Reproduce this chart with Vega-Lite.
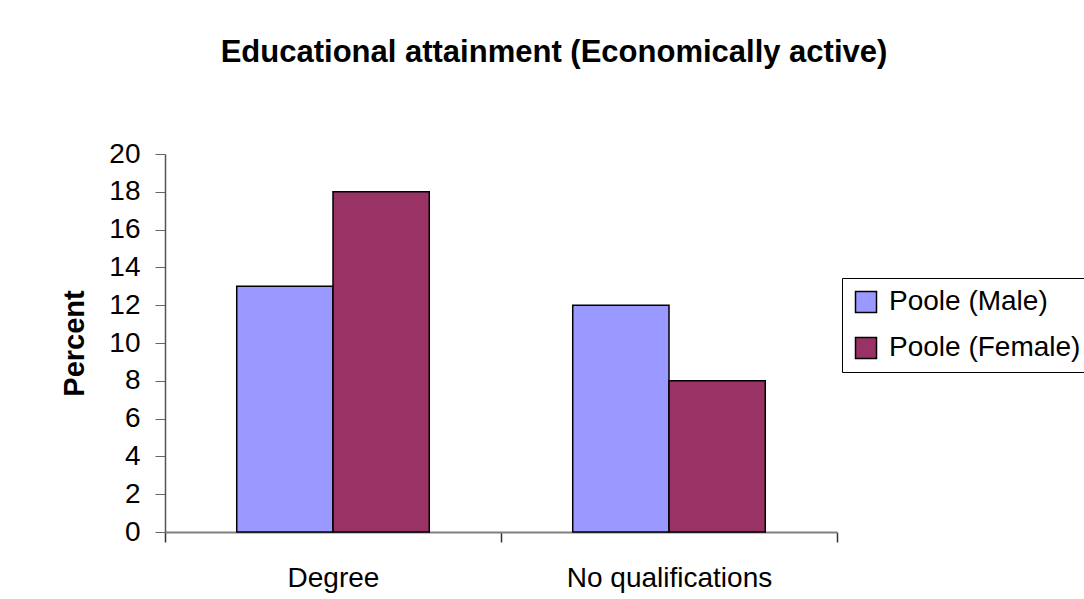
{
  "$schema": "https://vega.github.io/schema/vega-lite/v6.json",
  "width": 672,
  "height": 378,
  "autosize": {"type": "none"},
  "padding": {"left": 165, "top": 154, "right": 247, "bottom": 67},
  "background": "white",
  "title": {
    "text": "Educational attainment (Economically active)",
    "font": "Liberation Sans",
    "fontSize": 31,
    "fontWeight": "bold",
    "color": "black",
    "anchor": "middle",
    "frame": "group",
    "baseline": "alphabetic",
    "offset": 47,
    "dx": 53
  },
  "data": {
    "values": [
      {"category": "Degree", "series": "Poole (Male)", "value": 13},
      {"category": "Degree", "series": "Poole (Female)", "value": 18},
      {"category": "No qualifications", "series": "Poole (Male)", "value": 12},
      {"category": "No qualifications", "series": "Poole (Female)", "value": 8}
    ]
  },
  "mark": {"type": "bar", "stroke": "black", "strokeWidth": 1.5, "opacity": 1},
  "encoding": {
    "x": {
      "field": "category",
      "type": "nominal",
      "sort": ["Degree", "No qualifications"],
      "scale": {"paddingInner": 0, "paddingOuter": 0},
      "axis": {
        "title": null,
        "labelAngle": 0,
        "labelFont": "Liberation Sans",
        "labelFontSize": 28,
        "labelColor": "black",
        "labelPadding": 22,
        "labelLimit": 400,
        "tickBand": "extent",
        "tickSize": 10,
        "tickColor": "#333333",
        "tickWidth": 1.5,
        "domainColor": "#808080",
        "domainWidth": 2
      }
    },
    "xOffset": {
      "field": "series",
      "type": "nominal",
      "sort": ["Poole (Male)", "Poole (Female)"],
      "scale": {"paddingInner": 0, "paddingOuter": 0.745}
    },
    "y": {
      "field": "value",
      "type": "quantitative",
      "scale": {"domain": [0, 20], "nice": false},
      "axis": {
        "title": "Percent",
        "titleFont": "Liberation Sans",
        "titleFontSize": 29,
        "titleFontWeight": "bold",
        "titleColor": "black",
        "titleAngle": -90,
        "titleAlign": "center",
        "titleBaseline": "middle",
        "titleX": -91,
        "titleY": 189,
        "values": [0, 2, 4, 6, 8, 10, 12, 14, 16, 18, 20],
        "grid": false,
        "labelFont": "Liberation Sans",
        "labelFontSize": 28,
        "labelColor": "black",
        "labelPadding": 15,
        "tickSize": 10,
        "tickColor": "#666666",
        "domainColor": "#555555",
        "domainWidth": 1.5
      }
    },
    "color": {
      "field": "series",
      "type": "nominal",
      "sort": ["Poole (Male)", "Poole (Female)"],
      "scale": {"domain": ["Poole (Male)", "Poole (Female)"], "range": ["#9999FF", "#993366"]},
      "legend": {
        "title": null,
        "orient": "none",
        "legendX": 677,
        "legendY": 124,
        "padding": 10,
        "strokeColor": "black",
        "fillColor": "white",
        "symbolType": "square",
        "symbolSize": 441,
        "symbolStrokeColor": "black",
        "symbolStrokeWidth": 1.5,
        "symbolOpacity": 1,
        "labelFont": "Liberation Sans",
        "labelFontSize": 28,
        "labelColor": "black",
        "labelOffset": 9,
        "labelLimit": 400,
        "rowPadding": 18
      }
    }
  },
  "config": {
    "view": {"stroke": null}
  }
}
